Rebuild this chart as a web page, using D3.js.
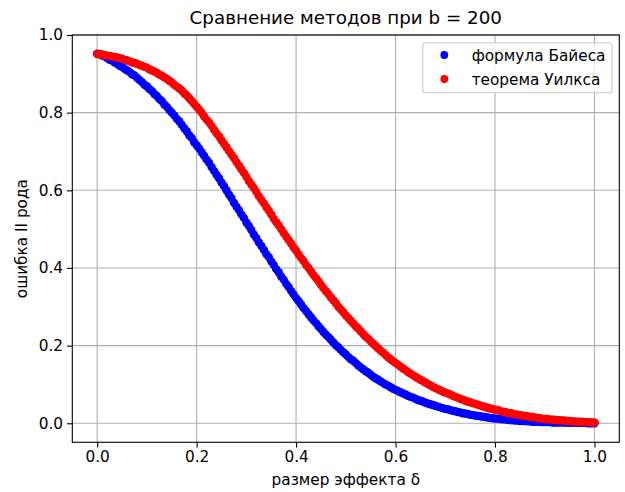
<!DOCTYPE html>
<html>
<head>
<meta charset="utf-8">
<script src="https://cdn.jsdelivr.net/npm/d3@7"></script>
<style>
  body { margin: 0; background: #fff; }
  svg text { font-family: "DejaVu Sans", sans-serif; fill: #000; }
</style>
</head>
<body>
<svg id="chart" width="625" height="492"></svg>
<script>
"use strict";

// effect size grid (x axis)
var deltas = [
  0.000, 0.005, 0.010, 0.015, 0.020, 0.025, 0.030, 0.035, 0.040, 0.045,
  0.050, 0.055, 0.060, 0.065, 0.070, 0.075, 0.080, 0.085, 0.090, 0.095,
  0.100, 0.105, 0.110, 0.115, 0.120, 0.125, 0.130, 0.135, 0.140, 0.145,
  0.150, 0.155, 0.160, 0.165, 0.170, 0.175, 0.180, 0.185, 0.190, 0.195,
  0.200, 0.205, 0.210, 0.215, 0.220, 0.225, 0.230, 0.235, 0.240, 0.245,
  0.250, 0.255, 0.260, 0.265, 0.270, 0.275, 0.280, 0.285, 0.290, 0.295,
  0.300, 0.305, 0.310, 0.315, 0.320, 0.325, 0.330, 0.335, 0.340, 0.345,
  0.350, 0.355, 0.360, 0.365, 0.370, 0.375, 0.380, 0.385, 0.390, 0.395,
  0.400, 0.405, 0.410, 0.415, 0.420, 0.425, 0.430, 0.435, 0.440, 0.445,
  0.450, 0.455, 0.460, 0.465, 0.470, 0.475, 0.480, 0.485, 0.490, 0.495,
  0.500, 0.505, 0.510, 0.515, 0.520, 0.525, 0.530, 0.535, 0.540, 0.545,
  0.550, 0.555, 0.560, 0.565, 0.570, 0.575, 0.580, 0.585, 0.590, 0.595,
  0.600, 0.605, 0.610, 0.615, 0.620, 0.625, 0.630, 0.635, 0.640, 0.645,
  0.650, 0.655, 0.660, 0.665, 0.670, 0.675, 0.680, 0.685, 0.690, 0.695,
  0.700, 0.705, 0.710, 0.715, 0.720, 0.725, 0.730, 0.735, 0.740, 0.745,
  0.750, 0.755, 0.760, 0.765, 0.770, 0.775, 0.780, 0.785, 0.790, 0.795,
  0.800, 0.805, 0.810, 0.815, 0.820, 0.825, 0.830, 0.835, 0.840, 0.845,
  0.850, 0.855, 0.860, 0.865, 0.870, 0.875, 0.880, 0.885, 0.890, 0.895,
  0.900, 0.905, 0.910, 0.915, 0.920, 0.925, 0.930, 0.935, 0.940, 0.945,
  0.950, 0.955, 0.960, 0.965, 0.970, 0.975, 0.980, 0.985, 0.990, 0.995,
  1.000
];

// type II error, Bayes formula
var bayes = [
  0.952, 0.951, 0.947, 0.945, 0.941, 0.936, 0.934, 0.929, 0.926, 0.921,
  0.918, 0.913, 0.909, 0.905, 0.899, 0.896, 0.890, 0.884, 0.879, 0.872,
  0.868, 0.861, 0.856, 0.848, 0.843, 0.835, 0.830, 0.821, 0.815, 0.807,
  0.800, 0.793, 0.784, 0.778, 0.769, 0.760, 0.752, 0.742, 0.735, 0.724,
  0.716, 0.708, 0.698, 0.689, 0.679, 0.671, 0.660, 0.650, 0.640, 0.631,
  0.620, 0.611, 0.600, 0.589, 0.580, 0.568, 0.558, 0.549, 0.538, 0.529,
  0.517, 0.508, 0.498, 0.486, 0.477, 0.466, 0.457, 0.447, 0.436, 0.428,
  0.417, 0.408, 0.397, 0.389, 0.378, 0.370, 0.359, 0.351, 0.341, 0.332,
  0.323, 0.315, 0.306, 0.297, 0.289, 0.281, 0.273, 0.265, 0.258, 0.250,
  0.243, 0.235, 0.228, 0.222, 0.215, 0.208, 0.201, 0.196, 0.189, 0.183,
  0.177, 0.171, 0.165, 0.161, 0.155, 0.149, 0.144, 0.139, 0.134, 0.130,
  0.125, 0.120, 0.116, 0.112, 0.108, 0.104, 0.100, 0.097, 0.093, 0.089,
  0.086, 0.083, 0.080, 0.077, 0.074, 0.071, 0.068, 0.066, 0.063, 0.060,
  0.058, 0.056, 0.053, 0.051, 0.049, 0.047, 0.045, 0.043, 0.041, 0.039,
  0.037, 0.036, 0.034, 0.032, 0.031, 0.029, 0.028, 0.026, 0.025, 0.024,
  0.022, 0.021, 0.020, 0.019, 0.018, 0.017, 0.016, 0.015, 0.014, 0.013,
  0.012, 0.012, 0.011, 0.010, 0.010, 0.009, 0.008, 0.008, 0.007, 0.007,
  0.006, 0.006, 0.006, 0.005, 0.005, 0.004, 0.004, 0.004, 0.004, 0.003,
  0.003, 0.003, 0.003, 0.002, 0.002, 0.002, 0.002, 0.002, 0.002, 0.001,
  0.001, 0.001, 0.001, 0.001, 0.001, 0.001, 0.001, 0.000, 0.000, 0.000,
  0.000
];

// type II error, Wilks theorem
var wilks = [
  0.951, 0.950, 0.950, 0.948, 0.947, 0.946, 0.945, 0.943, 0.942, 0.940,
  0.939, 0.936, 0.935, 0.932, 0.930, 0.928, 0.926, 0.923, 0.921, 0.918,
  0.916, 0.912, 0.909, 0.906, 0.903, 0.898, 0.895, 0.891, 0.887, 0.882,
  0.878, 0.872, 0.867, 0.863, 0.857, 0.850, 0.844, 0.837, 0.830, 0.823,
  0.815, 0.808, 0.800, 0.790, 0.782, 0.775, 0.766, 0.756, 0.747, 0.739,
  0.729, 0.720, 0.711, 0.701, 0.692, 0.683, 0.673, 0.664, 0.654, 0.645,
  0.635, 0.624, 0.615, 0.606, 0.596, 0.585, 0.576, 0.567, 0.557, 0.548,
  0.538, 0.527, 0.518, 0.510, 0.500, 0.490, 0.481, 0.472, 0.463, 0.453,
  0.445, 0.435, 0.426, 0.418, 0.408, 0.400, 0.391, 0.382, 0.374, 0.366,
  0.357, 0.348, 0.340, 0.333, 0.324, 0.317, 0.309, 0.300, 0.293, 0.286,
  0.278, 0.271, 0.264, 0.257, 0.250, 0.244, 0.237, 0.230, 0.223, 0.218,
  0.211, 0.205, 0.199, 0.193, 0.187, 0.182, 0.176, 0.170, 0.165, 0.160,
  0.155, 0.151, 0.146, 0.141, 0.137, 0.132, 0.128, 0.124, 0.120, 0.116,
  0.112, 0.109, 0.105, 0.101, 0.098, 0.094, 0.091, 0.088, 0.085, 0.082,
  0.079, 0.077, 0.074, 0.071, 0.068, 0.066, 0.063, 0.061, 0.058, 0.056,
  0.054, 0.052, 0.050, 0.048, 0.046, 0.044, 0.042, 0.040, 0.038, 0.037,
  0.035, 0.034, 0.032, 0.030, 0.029, 0.027, 0.026, 0.025, 0.023, 0.022,
  0.021, 0.020, 0.019, 0.018, 0.017, 0.016, 0.015, 0.014, 0.013, 0.012,
  0.011, 0.011, 0.010, 0.009, 0.009, 0.008, 0.008, 0.007, 0.007, 0.006,
  0.006, 0.005, 0.005, 0.004, 0.004, 0.004, 0.003, 0.003, 0.003, 0.002,
  0.002
];

var series_names = ['формула Байеса', 'теорема Уилкса'];
var series_colors = ['#0000ff', '#ff0000'];
var x_ticks = [0.0, 0.2, 0.4, 0.6, 0.8, 1.0];
var y_ticks = [0.0, 0.2, 0.4, 0.6, 0.8, 1.0];

function draw_chart() {
  var svg = d3.select('#chart');
  var left = 72.3, right = 619.3, top = 35, bottom = 442.3;
  var dot_r = 4.2;

  var x = d3.scaleLinear().domain([-0.05, 1.05]).range([left, right]);
  var y = d3.scaleLinear().domain([-0.049, 1.0]).range([bottom, top]);

  // grid
  var grid = svg.append('g').attr('stroke', '#b0b0b0').attr('stroke-width', 1.1);
  x_ticks.forEach(function(t) {
    grid.append('line').attr('x1', x(t)).attr('x2', x(t)).attr('y1', top).attr('y2', bottom);
  });
  y_ticks.forEach(function(t) {
    grid.append('line').attr('x1', left).attr('x2', right).attr('y1', y(t)).attr('y2', y(t));
  });

  // points: Bayes first, Wilks drawn over it
  [bayes, wilks].forEach(function(values, i) {
    svg.append('g')
      .attr('fill', series_colors[i])
      .selectAll('circle')
      .data(deltas)
      .enter().append('circle')
      .attr('cx', function(d) { return x(d); })
      .attr('cy', function(d, j) { return y(values[j]); })
      .attr('r', dot_r);
  });

  // axes
  var x_axis = d3.axisBottom(x).tickValues(x_ticks).tickFormat(d3.format('.1f'))
    .tickSize(5.3).tickPadding(4);
  var y_axis = d3.axisLeft(y).tickValues(y_ticks).tickFormat(d3.format('.1f'))
    .tickSize(5.3).tickPadding(4);

  function style_axis(g) {
    g.select('.domain').remove();
    g.selectAll('line').attr('stroke', '#000').attr('stroke-width', 1.1);
    g.selectAll('text').attr('font-size', '15.3px')
      .attr('font-family', '"DejaVu Sans", sans-serif').attr('fill', '#000');
  }

  svg.append('g').attr('transform', 'translate(0,' + bottom + ')').call(x_axis).call(style_axis);
  svg.append('g').attr('transform', 'translate(' + left + ',0)').call(y_axis).call(style_axis);

  // frame
  svg.append('rect')
    .attr('x', left).attr('y', top)
    .attr('width', right - left).attr('height', bottom - top)
    .attr('fill', 'none').attr('stroke', '#000').attr('stroke-width', 1.1);

  // texts
  var mid_x = (left + right) / 2;
  svg.append('text').attr('x', mid_x).attr('y', 24).attr('text-anchor', 'middle')
    .attr('font-size', '18.3px').text('Сравнение методов при b = 200');
  svg.append('text').attr('x', mid_x).attr('y', 485).attr('text-anchor', 'middle')
    .attr('font-size', '15.3px').text('размер эффекта δ');
  svg.append('text')
    .attr('transform', 'translate(27,' + ((top + bottom) / 2) + ') rotate(-90)')
    .attr('text-anchor', 'middle').attr('font-size', '15.3px').text('ошибка II рода');

  // legend
  var legend = svg.append('g');
  legend.append('rect')
    .attr('x', 422.7).attr('y', 42.7).attr('width', 189.3).attr('height', 50)
    .attr('rx', 3).attr('fill', '#fff').attr('fill-opacity', 0.8)
    .attr('stroke', '#cccccc').attr('stroke-width', 1.1);
  series_names.forEach(function(name, i) {
    var cy = 55 + i * 24;
    legend.append('circle').attr('cx', 444.3).attr('cy', cy).attr('r', 3.9)
      .attr('fill', series_colors[i]);
    legend.append('text').attr('x', 471.7).attr('y', cy + 5.5)
      .attr('font-size', '15.3px').text(name);
  });
}

draw_chart();
</script>
</body>
</html>
